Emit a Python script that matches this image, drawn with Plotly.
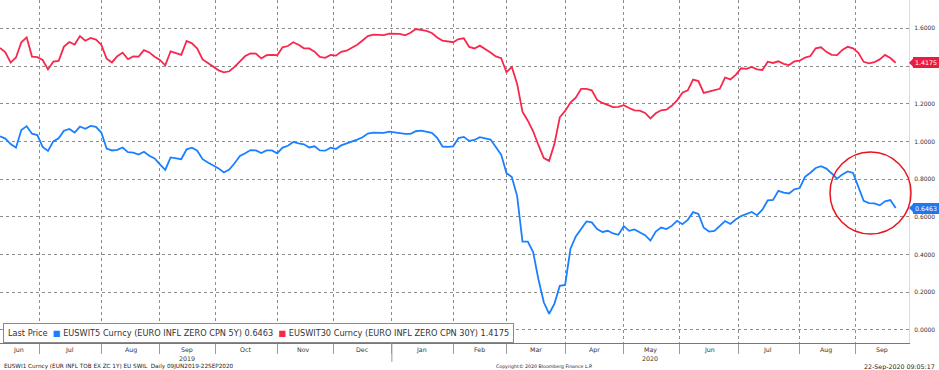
import pandas as pd
import plotly.graph_objects as go

# ---------------- data (every 2nd business day) ----------------
start_date = "2019-06-10"
end_date = "2020-09-22"
dates = pd.bdate_range(start_date, end_date)[::2]

eur5y = [1.027, 1.015, 0.986, 0.967, 1.060, 1.081, 1.041, 1.034, 0.971, 0.950,
         1.000, 1.017, 1.057, 1.066, 1.047, 1.079, 1.067, 1.082, 1.077, 1.047,
         0.962, 0.952, 0.955, 0.968, 0.943, 0.941, 0.930, 0.945, 0.924, 0.910,
         0.878, 0.849, 0.915, 0.910, 0.906, 0.958, 0.967, 0.951, 0.906, 0.888,
         0.874, 0.857, 0.835, 0.851, 0.884, 0.923, 0.937, 0.954, 0.952, 0.938,
         0.952, 0.952, 0.937, 0.967, 0.977, 0.997, 0.990, 0.985, 0.968, 0.974,
         0.952, 0.951, 0.967, 0.960, 0.979, 0.988, 0.998, 1.010, 1.022, 1.042,
         1.047, 1.045, 1.045, 1.052, 1.047, 1.043, 1.040, 1.040, 1.054, 1.057,
         1.053, 1.046, 1.019, 0.973, 0.971, 0.974, 1.018, 1.024, 1.003, 1.008,
         1.023, 1.015, 1.010, 0.970, 0.930, 0.832, 0.811, 0.710, 0.469, 0.469,
         0.413, 0.268, 0.147, 0.086, 0.140, 0.234, 0.239, 0.431, 0.496, 0.536,
         0.576, 0.571, 0.535, 0.520, 0.526, 0.512, 0.505, 0.551, 0.526, 0.533,
         0.518, 0.503, 0.474, 0.522, 0.543, 0.535, 0.552, 0.579, 0.561, 0.584,
         0.625, 0.615, 0.542, 0.522, 0.526, 0.551, 0.578, 0.562, 0.586, 0.604,
         0.614, 0.626, 0.609, 0.638, 0.687, 0.690, 0.738, 0.728, 0.724, 0.746,
         0.753, 0.812, 0.834, 0.859, 0.869, 0.856, 0.830, 0.802, 0.825, 0.841,
         0.833, 0.761, 0.685, 0.673, 0.671, 0.661, 0.682, 0.689, 0.6463]

eur30y = [1.496, 1.472, 1.418, 1.445, 1.526, 1.552, 1.450, 1.447, 1.432, 1.382,
          1.423, 1.427, 1.503, 1.527, 1.514, 1.559, 1.534, 1.549, 1.540, 1.513,
          1.439, 1.419, 1.452, 1.471, 1.436, 1.451, 1.450, 1.484, 1.472, 1.449,
          1.432, 1.403, 1.478, 1.469, 1.459, 1.533, 1.520, 1.492, 1.435, 1.416,
          1.397, 1.377, 1.366, 1.372, 1.395, 1.427, 1.453, 1.467, 1.466, 1.440,
          1.457, 1.459, 1.457, 1.499, 1.506, 1.526, 1.513, 1.494, 1.493, 1.476,
          1.448, 1.443, 1.459, 1.455, 1.475, 1.481, 1.495, 1.513, 1.535, 1.559,
          1.566, 1.564, 1.564, 1.571, 1.572, 1.570, 1.563, 1.576, 1.596, 1.591,
          1.586, 1.575, 1.551, 1.535, 1.529, 1.526, 1.543, 1.547, 1.501, 1.493,
          1.508, 1.492, 1.472, 1.451, 1.441, 1.367, 1.395, 1.305, 1.158, 1.110,
          1.054, 0.980, 0.912, 0.897, 0.987, 1.128, 1.162, 1.206, 1.232, 1.279,
          1.279, 1.271, 1.220, 1.204, 1.195, 1.182, 1.183, 1.192, 1.177, 1.165,
          1.163, 1.151, 1.122, 1.149, 1.165, 1.168, 1.189, 1.218, 1.258, 1.271,
          1.328, 1.320, 1.257, 1.265, 1.271, 1.279, 1.339, 1.329, 1.353, 1.388,
          1.385, 1.395, 1.382, 1.379, 1.423, 1.416, 1.425, 1.411, 1.405, 1.424,
          1.428, 1.445, 1.453, 1.494, 1.499, 1.475, 1.459, 1.458, 1.485, 1.502,
          1.494, 1.470, 1.422, 1.414, 1.420, 1.435, 1.459, 1.442, 1.4175]

series_names = ["EUSWIT5 Curncy (EURO INFL ZERO CPN 5Y)",
                "EUSWIT30 Curncy (EURO INFL ZERO CPN 30Y)"]
last_prices = ["0.6463", "1.4175"]
month_labels = ["Jun", "Jul", "Aug", "Sep", "Oct", "Nov", "Dec",
                "Jan", "Feb", "Mar", "Apr", "May", "Jun", "Jul", "Aug", "Sep"]
year_labels = {"2019": 3, "2020": 11}   # year text placed under these month labels
y_ticks = [0.0, 0.2, 0.4, 0.6, 0.8, 1.0, 1.2, 1.4, 1.6]
# the 1.4000 label is hidden behind the last-price tag in the original
y_tick_text = ["0.0000", "0.2000", "0.4000", "0.6000", "0.8000", "1.0000", "1.2000", "", "1.6000"]
footer_left = "EUSWI1 Curncy (EUR INFL TOB EX ZC 1Y) EU SWIL  Daily 09JUN2019-22SEP2020"
footer_mid = "Copyright© 2020 Bloomberg Finance L.P."
footer_right = "22-Sep-2020 09:05:17"

# ---------------- styling ----------------
BLUE = "#1a80ff"
RED = "#f7284c"
BOX_BLUE = "#1f78f0"
BOX_RED = "#ec1c40"
FONT = "DejaVu Sans"
W, H = 939, 370
ML, MR, MT, MB = 0, 30, 0, 27
PW, PH = W - ML - MR, H - MT - MB
axis_end = "2020-09-29"

fig = go.Figure()
fig.add_trace(go.Scatter(x=dates, y=eur5y, mode="lines", name=series_names[0],
                         line=dict(color=BLUE, width=1.8)))
fig.add_trace(go.Scatter(x=dates, y=eur30y, mode="lines", name=series_names[1],
                         line=dict(color=RED, width=1.8)))

# month boundaries / label positions
full_bd = pd.bdate_range(start_date, axis_end)
groups = pd.Series(full_bd, index=full_bd).groupby([full_bd.year, full_bd.month])
month_firsts = [g.iloc[0] for _, g in groups][1:]
month_mids = [g.iloc[len(g) // 2] for _, g in groups]

y_lo, y_hi = -0.069, 1.750
fig.update_layout(
    width=W, height=H, margin=dict(l=ML, r=MR, t=MT, b=MB),
    paper_bgcolor="white", plot_bgcolor="white", showlegend=False,
    font=dict(family=FONT, color="#333", size=6),
    xaxis=dict(type="date", range=[start_date, axis_end],
               rangebreaks=[dict(bounds=["sat", "mon"])],
               tickmode="array", tickvals=month_firsts, showticklabels=False,
               ticks="outside", ticklen=10, tickcolor="#9a9a9a", tickwidth=1,
               showgrid=True, gridcolor="#8c8c8c", griddash="dot", gridwidth=1,
               showline=True, linecolor="#777", linewidth=1, zeroline=False),
    yaxis=dict(side="right", range=[y_lo, y_hi], tickmode="array",
               tickvals=y_ticks, ticktext=y_tick_text,
               tickfont=dict(size=6, color="#333", family=FONT),
               showgrid=True, gridcolor="#8c8c8c", griddash="dot", gridwidth=1,
               showline=True, linecolor="#dcdcdc", linewidth=1, zeroline=False,
               ticks="", ticklabelstandoff=3),
)

ann = []
# month labels
for lab, d in zip(month_labels, month_mids):
    ann.append(dict(x=d, y=-6.5 / PH, xref="x", yref="paper", text=lab,
                    showarrow=False, xanchor="center", yanchor="middle",
                    font=dict(size=6.3, color="#333", family=FONT)))
for ytxt, idx in year_labels.items():
    ann.append(dict(x=month_mids[idx], y=-15.5 / PH, xref="x", yref="paper", text=ytxt,
                    showarrow=False, xanchor="center", yanchor="middle",
                    font=dict(size=6.3, color="#333", family=FONT)))
# footer
ann.append(dict(x=2 / PW, y=-23.5 / PH, xref="paper", yref="paper", text=footer_left,
                showarrow=False, xanchor="left", yanchor="middle",
                font=dict(size=5.7, color="#222", family=FONT)))
ann.append(dict(x=494 / PW, y=-23.5 / PH, xref="paper", yref="paper", text=footer_mid,
                showarrow=False, xanchor="left", yanchor="middle",
                font=dict(size=4.7, color="#222", family=FONT)))
ann.append(dict(x=937 / PW, y=-23.5 / PH, xref="paper", yref="paper", text=footer_right,
                showarrow=False, xanchor="right", yanchor="middle",
                font=dict(size=6.3, color="#222", family=FONT)))
# legend box
nb = "\u00a0"
legend_text = (f"Last Price{nb}{nb}<span style='color:{BLUE}'>■</span> {series_names[0]} {last_prices[0]}"
               f"{nb}{nb}<span style='color:{RED}'>■</span> {series_names[1]} {last_prices[1]}")
ann.append(dict(x=3 / PW, y=0, xref="paper", yref="paper", text=legend_text,
                showarrow=False, xanchor="left", yanchor="bottom",
                bgcolor="white", bordercolor="#8a8a8a", borderwidth=1, borderpad=4,
                font=dict(size=8.2, color="#333", family=FONT)))
# last price tags
box_x = 913 / PW
for val, col in ((last_prices[1], BOX_RED), (last_prices[0], BOX_BLUE)):
    ann.append(dict(x=box_x, y=float(val), xref="paper", yref="y", text=val,
                    showarrow=False, xanchor="left", yanchor="middle",
                    bgcolor=col, bordercolor=col, borderwidth=1, borderpad=1,
                    font=dict(size=6.3, color="white", family=FONT)))
fig.update_layout(annotations=ann)

shapes = []
unit_px = PH / (y_hi - y_lo)
for val, col in ((last_prices[1], BOX_RED), (last_prices[0], BOX_BLUE)):
    v = float(val)
    dy = 4.5 / unit_px
    shapes.append(dict(type="path", xref="paper", yref="y",
                       path=f"M {909 / PW},{v} L {box_x + 0.0005},{v + dy} L {box_x + 0.0005},{v - dy} Z",
                       fillcolor=col, line=dict(width=0)))
# year separator below the axis at the start of 2020
shapes.append(dict(type="line", xref="x", yref="paper", x0="2020-01-01", x1="2020-01-01",
                   y0=0, y1=-19 / PH, line=dict(color="#9a9a9a", width=1)))
# hand-drawn red circle
shapes.append(dict(type="circle", xref="paper", yref="paper",
                   x0=830 / PW, x1=911 / PW, y0=1 - 234 / PH, y1=1 - 152 / PH,
                   line=dict(color="#e8141e", width=1.5)))
fig.update_layout(shapes=shapes)

fig.write_html("out.html", config={"displayModeBar": False})

# remove the browser's default page margin so the figure sits at the window's corner
with open("out.html", encoding="utf-8") as f:
    html = f.read()
html = html.replace("<head>", "<head><style>html,body{margin:0;padding:0;overflow:hidden;}</style>", 1)
with open("out.html", "w", encoding="utf-8") as f:
    f.write(html)
